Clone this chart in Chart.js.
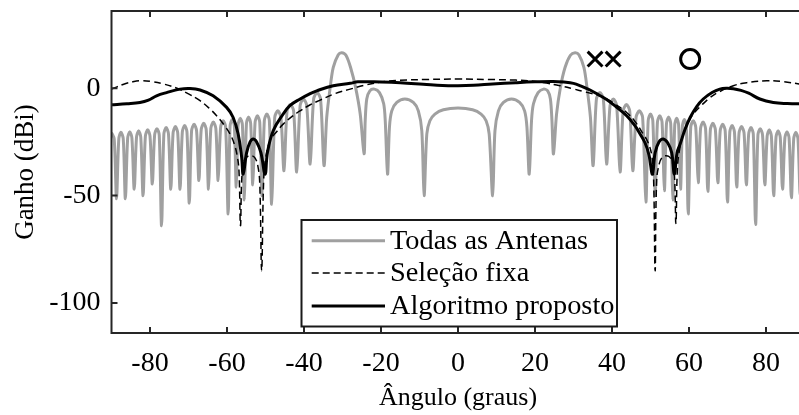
<!DOCTYPE html>
<html>
<head>
<meta charset="utf-8">
<script src="https://cdn.jsdelivr.net/npm/chart.js@4.4.0/dist/chart.umd.min.js"></script>
<style>
  html, body { margin: 0; padding: 0; background: #fff; width: 799px; height: 415px; overflow: hidden; }
  #wrap { width: 810px; height: 415px; }
</style>
</head>
<body>
<div id="wrap"><canvas id="graficoGanho" width="810" height="415"></canvas></div>
<script>
// Diagrama de ganho (dBi) em função do ângulo (graus)
var xTicks = [-80, -60, -40, -20, 0, 20, 40, 60, 80];
var yTicks = [-100, -50, 0];

// Todas as Antenas (cinza)
var anguloTodas = [
  -90, -89.3, -88.7, -88.1, -87.55, -86.95, -86.4, -85.8, -85.25, -84.7,
  -84.1, -83.5, -82.95, -82.4, -81.8, -81.2, -80.6, -80.0, -79.4, -78.8,
  -78.2, -77.6, -77.0, -76.4, -75.8, -75.2, -74.6, -74.0, -73.4, -72.8,
  -72.2, -71.6, -71.0, -70.4, -69.8, -69.2, -68.55, -67.9, -67.3, -66.7,
  -66.05, -65.4, -64.8, -64.2, -63.55, -62.9, -62.3, -61.65, -61.0, -60.35,
  -59.7, -59.2, -58.65, -58.1, -57.6, -57.1, -56.55, -56.0, -55.5, -54.95,
  -54.4, -53.85, -53.3, -52.7, -52.1, -51.5, -50.9, -50.3, -49.65, -49.0,
  -48.4, -47.6, -46.8, -46.0, -45.2, -44.4, -43.55, -42.7, -41.9, -41.0,
  -40.15, -39.3, -38.4, -37.5, -36.6, -35.7,
  -34.8, -34.1, -33.2, -32.4, -31.1, -30.2, -29.1, -27.9, -26.6, -25.4,
  -24.4, -24.1, -23.7, -22.9, -21.7, -20.4, -19.3, -18.9,
  -18.3, -17.8, -17.2, -15.9, -13.8, -11.6, -10.3, -9.4,
  -8.8, -8.1, -7.3, -6.0, -3.8, 0, 3.8, 6.0, 7.3, 8.1,
  9.0, 9.6, 10.5, 11.8, 13.9, 16.0, 17.3, 17.9,
  18.5, 19.1, 19.6, 20.8, 22.2, 23.3, 24.0, 24.4,
  24.8, 25.6, 26.6, 27.8, 29.2, 30.4, 31.4, 32.7, 33.5, 34.4,
  35.1, 35.95, 36.85, 37.75, 38.6, 39.5, 40.35, 41.2, 42.1, 42.9,
  43.75, 44.6, 45.4, 46.25, 47.1, 47.95, 48.8, 49.4, 50.0, 50.6,
  51.2, 51.8, 52.4, 53.0, 53.6, 54.15, 54.7, 55.25, 55.8, 56.3,
  56.8, 57.3, 57.8, 58.3, 58.8, 59.3, 59.8, 60.45, 61.1, 61.75,
  62.4, 63.0, 63.65, 64.3, 64.9, 65.55, 66.2, 66.85, 67.5, 68.1,
  68.75, 69.4, 70.0, 70.6, 71.2, 71.8, 72.4, 73.0, 73.65, 74.3,
  74.9, 75.5, 76.1, 76.7, 77.3, 77.9, 78.5, 79.1, 79.7, 80.3,
  80.85, 81.4, 82.0, 82.6, 83.15, 83.7, 84.3, 84.9, 85.45, 86.0,
  86.6, 87.2, 87.75, 88.3, 88.9, 89.5, 90
];
var ganhoTodas = [
  -20.6, -23.6, -51.5, -23.5, -20.5, -23.5, -51.5, -23.2, -20.2, -23.2,
  -47, -22.8, -19.8, -22.8, -50, -22.3, -19.3, -22.3, -44.6, -21.8,
  -18.8, -21.8, -64, -21.3, -18.3, -21.3, -47, -20.8, -17.8, -20.8,
  -47, -20.3, -17.3, -20.3, -53.5, -19.8, -16.8, -19.8, -43, -19.3,
  -16.3, -19.3, -47, -18.7, -15.7, -18.7, -43, -18.1, -15.1, -18.1,
  -58.5, -17.5, -14.5, -17.5, -46, -17, -14, -17, -52, -16.4,
  -13.4, -16.4, -45, -15.8, -12.8, -15.8, -50, -15, -12, -15,
  -54, -13.5, -10.5, -13.5, -38.4, -10.5, -7.5, -10.5, -39, -8,
  -5, -8, -35.3, -5, -2, -5,
  -36, -13.6, 0.4, 9.7, 15.6, 16.6, 15.4, 9.7, 0.4, -12,
  -30.5, -15, -5, -1.2, -0.4, -2, -7.2, -15,
  -40, -18, -10.5, -6.6, -5, -6.6, -10.5, -19.8,
  -50, -21.3, -15.1, -12, -10, -9.2, -10, -12, -15.1, -21.3,
  -50, -19.8, -10.5, -6.6, -5, -6.6, -10.5, -18,
  -40, -15, -7.2, -2, -0.4, -1.2, -5, -15,
  -30.6, -12, 0.4, 9.7, 15.4, 16.6, 15.6, 9.7, 0.4, -13.6,
  -36, -5, -2, -5, -35.3, -8, -5, -8, -39, -10.5,
  -7.5, -10.5, -38.4, -13.5, -10.5, -13.5, -53, -15, -12, -15,
  -50, -15.8, -12.8, -15.8, -47.7, -16.4, -13.4, -16.4, -52, -17,
  -14, -17, -47, -17.5, -14.5, -17.5, -58.5, -18.1, -15.1, -18.1,
  -44, -18.7, -15.7, -18.7, -48, -19.3, -16.3, -19.3, -44, -19.8,
  -16.8, -19.8, -53, -20.3, -17.3, -20.3, -46, -20.8, -17.8, -20.8,
  -45, -21.3, -18.3, -21.3, -63.5, -21.8, -18.8, -21.8, -45, -22.3,
  -19.3, -22.3, -50, -22.8, -19.8, -22.8, -47, -23.2, -20.2, -23.2,
  -51, -23.5, -20.5, -23.5, -50, -23.6, -21
];

// Seleção fixa (tracejado)
var anguloFixa = [
  -90, -87, -84.5, -82.3, -79.5, -76.5, -73, -70, -67, -64.5,
  -62.7, -60.6, -59.2, -58.1, -57.4, -56.9, -56.5, -56.1, -55.4, -54.5,
  -53.6, -52.7, -52, -51.5, -51.0, -50.5, -50, -48.8, -47, -45.4,
  -43, -41, -38.5, -35.8, -32, -28, -24, -20, -15, -8,
  0, 8, 15, 20, 23, 26.5, 30, 33, 36.9, 38.6,
  40.5, 43.8, 46.2, 48.1, 49.3, 50.3, 50.8, 51.2, 51.6, 52.3,
  53.1, 53.9, 54.8, 55.6, 56.2, 56.6, 57.0, 57.6, 58.5, 59.8,
  61.1, 63.5, 65.5, 68, 71.5, 75, 80.2, 84, 88.6, 90
];
var ganhoFixa = [
  -0.4, 1.8, 3.0, 3.5, 3.1, 2.0, 0, -2.6, -5.8, -9.5,
  -12.8, -17.5, -21.3, -26, -31, -38, -64, -40, -33, -31.6,
  -31.4, -32.5, -36, -44, -85, -44, -33, -24.4, -20, -16.7,
  -13, -10.5, -7.8, -5.5, -2.5, -0.4, 1.5, 2.9, 3.7, 4.1,
  4.3, 4.1, 3.8, 3.2, 2.4, 1.2, -0.3, -1.7, -3.5, -5,
  -7, -11.3, -16, -21.3, -25, -31, -42, -85, -43, -35,
  -32, -31.4, -31.8, -34, -40, -63, -37, -28, -21.3, -16,
  -12, -7.5, -4.3, -1.5, 1.2, 2.6, 3.5, 3.2, 2, 1.5
];

// Algoritmo proposto (preto)
var anguloProposto = [
  -90, -86, -82.6, -80.4, -78.3, -75.7, -72.2, -69.6, -67, -63.6,
  -60.1, -58.4, -57.1, -56.2, -55.8, -54.9, -54.0, -53.2, -52.3, -51.2,
  -50.1, -49.5, -48, -45.4, -43.6, -41, -38.4, -36.7, -32.4, -28,
  -26, -20, -15, -9, -4, 0, 4, 9, 15, 20,
  24.7, 27.5, 30, 32, 34.3, 36.5, 38.6, 41, 43.8, 46,
  47.3, 48.6, 49.6, 50.5, 51.2, 52.2, 53.3, 54.5, 55.5, 56.2,
  56.9, 57.7, 59, 60.3, 62, 63.7, 66, 68, 69.7, 71.5,
  73.5, 75.5, 78.4, 81.9, 85.5, 90
];
var ganhoProposto = [
  -7.7, -7.2, -6.6, -5.5, -3.5, -2, -0.4, -0.1, -0.8, -3.5,
  -8.9, -13.6, -21.3, -32, -40, -30, -25, -23.6, -25, -30,
  -40, -30, -19.8, -12, -8, -5, -2.5, -1.2, 1.2, 2.3,
  3.0, 2.9, 2.6, 1.9, 1.3, 1.2, 1.4, 2.0, 2.6, 3.0,
  3.2, 2.9, 2.3, 1.0, -0.8, -3.0, -5.2, -8.5, -12.8, -17.5,
  -21.3, -25.5, -31, -40, -30, -25, -23.6, -25.5, -30, -40,
  -30, -26, -19, -13.6, -8.5, -5, -2, -0.4, 0, -0.2,
  -1, -2.3, -5, -6.6, -7.1, -7.3
];

// Marcadores: interferentes (x) e direção desejada (o)
var anguloInterferentes = [35.6, 40.3];
var anguloDesejado = [60.3];
var ganhoMarcadores = 13.6;

function pares(xs, ys) {
  return xs.map(function (v, i) { return { x: v, y: ys[i] }; });
}

var fonteSerif = "'Liberation Serif', 'Times New Roman', serif";
Chart.defaults.color = '#000';
Chart.defaults.font.family = fonteSerif;
Chart.defaults.font.size = 26;

// Caixa dos eixos com marcas para dentro (estilo MATLAB)
var caixaEixos = {
  id: 'caixaEixos',
  afterDatasetsDraw: function (chart) {
    var ctx = chart.ctx, a = chart.chartArea;
    var x = chart.scales.x, y = chart.scales.y;
    ctx.save();
    ctx.strokeStyle = '#262626';
    ctx.lineWidth = 2;
    ctx.beginPath();
    ctx.rect(a.left, a.top, a.right - a.left, a.bottom - a.top);
    xTicks.forEach(function (v) {
      var px = x.getPixelForValue(v);
      ctx.moveTo(px, a.bottom); ctx.lineTo(px, a.bottom - 6);
      ctx.moveTo(px, a.top); ctx.lineTo(px, a.top + 6);
    });
    yTicks.forEach(function (v) {
      var py = y.getPixelForValue(v);
      ctx.moveTo(a.left, py); ctx.lineTo(a.left + 6, py);
    });
    ctx.stroke();
    ctx.restore();
  }
};

// Legenda com caixa
var legendaCaixa = {
  id: 'legendaCaixa',
  afterDraw: function (chart) {
    var ctx = chart.ctx;
    var bx = 301.5, by = 220, bw = 315.5, bh = 106.5;
    ctx.save();
    ctx.fillStyle = '#fff';
    ctx.fillRect(bx, by, bw, bh);
    ctx.strokeStyle = '#1a1a1a';
    ctx.lineWidth = 2;
    ctx.strokeRect(bx, by, bw, bh);
    ctx.font = '27px ' + fonteSerif;
    ctx.textBaseline = 'middle';
    ctx.textAlign = 'left';
    var linhasY = [240.7, 273, 306];
    [0, 1, 2].forEach(function (i) {
      var ds = chart.data.datasets[i];
      ctx.beginPath();
      ctx.strokeStyle = ds.borderColor;
      ctx.lineWidth = ds.borderWidth;
      ctx.setLineDash(ds.borderDash || []);
      ctx.moveTo(311.7, linhasY[i]);
      ctx.lineTo(385, linhasY[i]);
      ctx.stroke();
      ctx.setLineDash([]);
      ctx.fillStyle = '#000';
      // texto ligeiramente alargado como no original
      ctx.save();
      ctx.translate(390, linhasY[i] + 1);
      ctx.scale(1.05, 1);
      ctx.fillText(ds.label, 0, 0);
      ctx.restore();
    });
    ctx.restore();
  }
};

new Chart(document.getElementById('graficoGanho').getContext('2d'), {
  type: 'line',
  data: {
    datasets: [{
      label: 'Todas as Antenas',
      data: pares(anguloTodas, ganhoTodas),
      borderColor: '#a0a0a0',
      borderWidth: 3,
      pointRadius: 0,
      tension: 0.3,
      order: 4
    }, {
      label: 'Seleção fixa',
      data: pares(anguloFixa, ganhoFixa),
      borderColor: '#000',
      borderWidth: 1.5,
      borderDash: [7, 4],
      pointRadius: 0,
      tension: 0.4,
      order: 3
    }, {
      label: 'Algoritmo proposto',
      data: pares(anguloProposto, ganhoProposto),
      borderColor: '#000',
      borderWidth: 3,
      pointRadius: 0,
      tension: 0.4,
      order: 2
    }, {
      label: 'interferentes',
      data: anguloInterferentes.map(function (v) { return { x: v, y: ganhoMarcadores }; }),
      showLine: false,
      pointStyle: 'crossRot',
      pointRadius: 10.5,
      pointBorderWidth: 3,
      pointBorderColor: '#000',
      order: 1
    }, {
      label: 'desejado',
      data: anguloDesejado.map(function (v) { return { x: v, y: ganhoMarcadores }; }),
      showLine: false,
      pointStyle: 'circle',
      pointRadius: 9.5,
      pointBorderWidth: 3,
      pointBorderColor: '#000',
      pointBackgroundColor: 'rgba(0,0,0,0)',
      order: 1
    }]
  },
  options: {
    responsive: false,
    animation: false,
    events: [],
    layout: { autoPadding: false, padding: { top: 11, right: 5.5, left: 0, bottom: 0 } },
    plugins: {
      legend: { display: false },
      tooltip: { enabled: false }
    },
    scales: {
      x: {
        type: 'linear',
        min: -90,
        max: 90,
        afterBuildTicks: function (s) { s.ticks = xTicks.map(function (v) { return { value: v }; }); },
        afterFit: function (s) { s.height = 82; s.paddingLeft = 0; s.paddingRight = 0; },
        grid: { display: false, drawTicks: false },
        border: { display: false },
        ticks: { padding: 14, font: { size: 28 }, callback: function (v) { return String(v); } },
        title: { display: true, text: 'Ângulo (graus)', padding: { top: 0, bottom: 1 } }
      },
      y: {
        min: -114,
        max: 36,
        afterBuildTicks: function (s) { s.ticks = yTicks.map(function (v) { return { value: v }; }); },
        afterFit: function (s) { s.width = 111.5; s.paddingTop = 0; s.paddingBottom = 0; },
        grid: { display: false, drawTicks: false },
        border: { display: false },
        ticks: { padding: 11, font: { size: 28 }, callback: function (v) { return String(v); } },
        title: { display: true, text: 'Ganho (dBi)', font: { size: 27 }, padding: { top: 10, bottom: 0 } }
      }
    }
  },
  plugins: [caixaEixos, legendaCaixa]
});
</script>
</body>
</html>
